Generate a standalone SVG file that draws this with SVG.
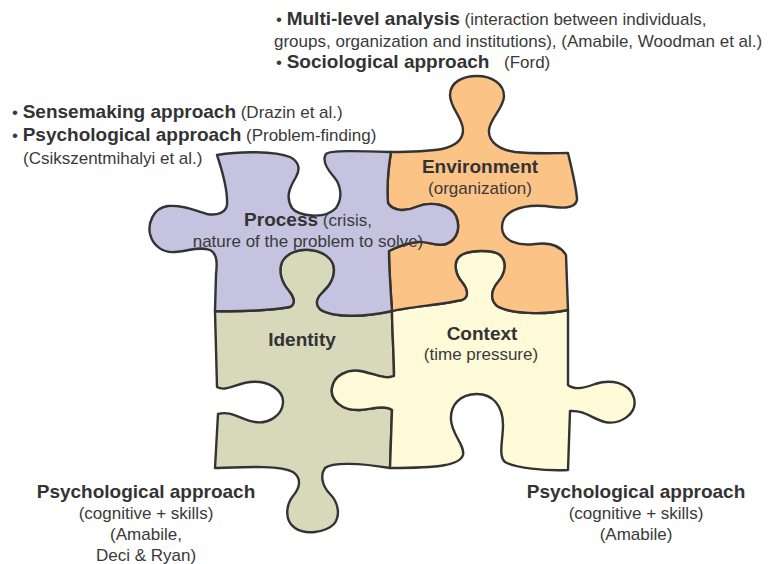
<svg xmlns="http://www.w3.org/2000/svg" width="771" height="564" viewBox="0 0 771 564">
<style>
text{font-family:"Liberation Sans",Arial,Helvetica,sans-serif;fill:#333}
.b{font-weight:bold;font-size:19px}
.r{font-size:17px;fill:#3a3a3a}
.m{text-anchor:middle}
.piece{stroke:#333;stroke-width:2.4;stroke-linejoin:round}
</style>
<rect width="771" height="564" fill="#fff"/>
<g id="connectors"/>
<g id="identity">
<path class="piece" fill="#D8D9BB" d="M 215 311 C 240 312, 275 310, 290 307 C 296 304, 294 297, 289 291 C 282 283, 278 272, 282 262 C 287 252, 300 249, 310 250 C 322 251, 334 258, 334 270 C 334 281, 327 288, 322 293 C 316 299, 315 305, 321 310 C 332 317, 362 318, 392 311 C 392 330, 394 355, 394 376 C 385 380, 372 373, 360 371 C 348 369, 334 375, 332 388 C 330 400, 342 411, 360 410 C 372 409, 385 405, 392 410 L 390 468 C 360 463, 332 462, 325 468 C 320 475, 322 486, 330 494 C 338 502, 341 515, 334 524 C 325 533, 305 535, 295 528 C 284 520, 286 505, 293 496 C 300 488, 302 478, 293 472 C 280 465, 245 467, 215 468 L 218 414 C 232 410, 240 420, 255 422 C 268 424, 282 416, 283 403 C 284 390, 268 380, 250 382 C 235 384, 225 392, 217 387 L 215 311 Z"/>
<text class="b m" x="302" y="346">Identity</text>
</g>
<g id="context">
<path class="piece" fill="#FFFAD8" d="M 392 311 C 410 307, 445 304, 462 300 C 470 297, 467 288, 462 282 C 455 274, 453 262, 460 256 C 467 250, 493 249, 500 255 C 508 262, 505 274, 498 282 C 492 289, 489 299, 497 306 C 510 314, 545 315, 568 310 L 568 385 C 574 390, 585 388, 595 384 C 610 379, 630 382, 634 398 C 638 414, 620 425, 605 422 C 592 419, 585 410, 570 411 L 568 470 C 545 471, 515 468, 505 462 C 498 456, 503 440, 503 425 C 503 405, 492 394, 477 394 C 460 394, 450 405, 451 420 C 452 435, 465 445, 463 455 C 460 465, 440 468, 390 468 L 392 410 C 385 405, 372 409, 360 410 C 342 411, 330 400, 332 388 C 334 375, 348 369, 360 371 C 372 373, 385 380, 394 376 C 394 355, 392 330, 392 311 Z"/>
<text class="b m" x="482" y="340">Context</text>
<text class="r m" x="481" y="360">(time pressure)</text>
</g>
<g id="environment">
<path class="piece" fill="#FBC386" d="M 391 152 C 415 152, 430 151, 442 149 C 455 146, 463 140, 463 130 C 463 118, 450 108, 450 95 C 450 82, 463 76, 477 76 C 492 76, 504 84, 504 96 C 504 108, 490 118, 489 130 C 488 142, 500 150, 515 152 C 535 154, 555 153, 568 153 C 572 170, 577 190, 577 200 C 575 210, 560 208, 545 206 C 520 204, 502 212, 502 227 C 502 242, 520 246, 535 244 C 550 242, 560 245, 566 255 L 568 310 C 545 315, 510 314, 497 306 C 489 299, 492 289, 498 282 C 505 274, 508 262, 500 255 C 493 249, 467 250, 460 256 C 453 262, 455 274, 462 282 C 467 288, 470 297, 462 300 C 445 304, 410 307, 392 311 C 391 295, 389 270, 389 251 C 395 248, 406 243, 418 242 C 428 241, 436 247, 446 244 C 457 240, 461 228, 456 216 C 450 204, 430 201, 416 207 C 405 212, 393 211, 388 203 C 387 190, 388 170, 391 152 Z"/>
<text class="b m" x="480" y="173">Environment</text>
<text class="r m" x="480" y="194">(organization)</text>
</g>
<g id="process">
<path class="piece" fill="#C5C3E0" d="M 217 155 C 240 151, 275 151, 290 157 C 300 162, 300 170, 296 177 C 290 187, 285 197, 292 208 C 298 216, 325 220, 336 208 C 343 198, 341 185, 334 177 C 326 168, 322 160, 326 154 C 330 150, 360 151, 391 152 C 388 170, 387 190, 388 203 C 393 211, 405 212, 416 207 C 430 201, 450 204, 456 216 C 461 228, 457 240, 446 244 C 436 247, 428 241, 418 242 C 406 243, 395 248, 389 251 C 389 270, 391 295, 392 311 C 362 318, 332 317, 321 310 C 315 305, 316 299, 322 293 C 327 288, 334 281, 334 270 C 334 258, 322 251, 310 250 C 300 249, 287 252, 282 262 C 278 272, 282 283, 289 291 C 294 297, 296 304, 290 307 C 275 310, 240 312, 215 311 L 216 275 C 217 265, 218 254, 210 250 C 200 246, 188 251, 175 252 C 163 253, 153 246, 150 234 C 148 225, 152 208, 168 206 C 185 205, 195 211, 207 214 C 218 216, 226 212, 227 205 C 228 190, 222 170, 217 155 Z"/>
<text class="m" x="308" y="226"><tspan class="b">Process</tspan><tspan class="r"> (crisis,</tspan></text>
<text class="r m" x="308" y="247">nature of the problem to solve)</text>
</g>
<g id="notes-top">
<text x="276" y="25"><tspan class="r">• </tspan><tspan class="b">Multi-level analysis</tspan><tspan class="r"> (interaction between individuals,</tspan></text>
<text class="r" x="274" y="47">groups, organization and institutions), (Amabile, Woodman et al.)</text>
<text x="276" y="68"><tspan class="r">• </tspan><tspan class="b">Sociological approach</tspan><tspan class="r" x="504">(Ford)</tspan></text>
</g>
<g id="notes-left">
<text x="12" y="118"><tspan class="r">• </tspan><tspan class="b">Sensemaking approach</tspan><tspan class="r"> (Drazin et al.)</tspan></text>
<text x="12" y="141"><tspan class="r">• </tspan><tspan class="b">Psychological approach</tspan><tspan class="r"> (Problem-finding)</tspan></text>
<text class="r" x="23" y="164">(Csikszentmihalyi et al.)</text>
</g>
<g id="notes-bottom-left">
<text class="b m" x="146" y="498">Psychological approach</text>
<text class="r m" x="146" y="519">(cognitive + skills)</text>
<text class="r m" x="146" y="540">(Amabile,</text>
<text class="r m" x="146" y="561">Deci &amp; Ryan)</text>
</g>
<g id="notes-bottom-right">
<text class="b m" x="636" y="498">Psychological approach</text>
<text class="r m" x="636" y="519">(cognitive + skills)</text>
<text class="r m" x="636" y="540">(Amabile)</text>
</g>
</svg>
